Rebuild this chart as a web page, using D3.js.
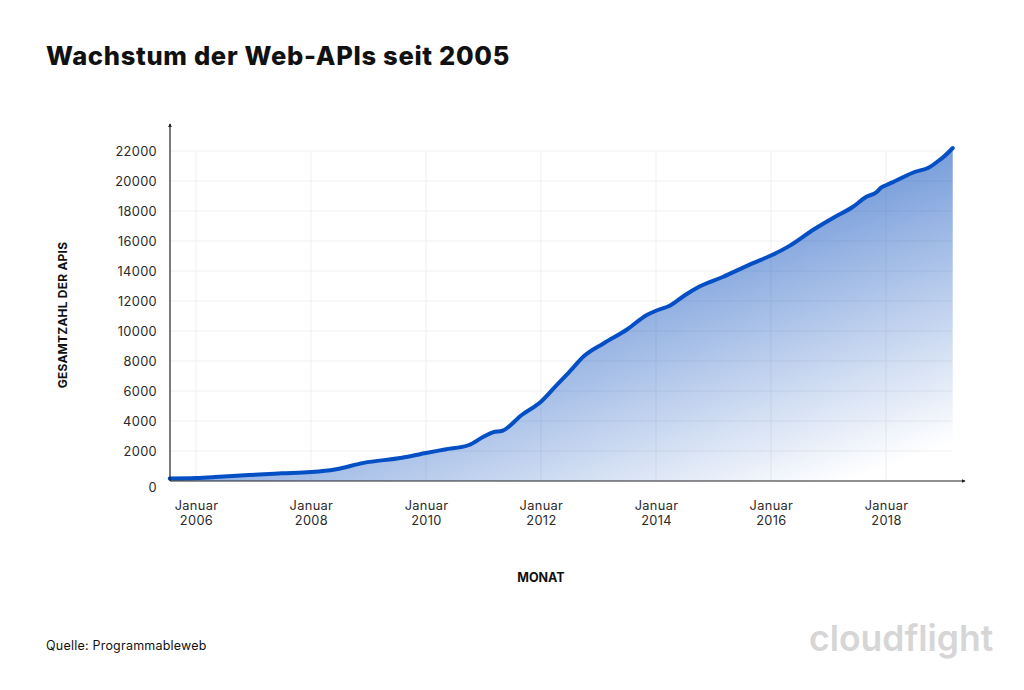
<!DOCTYPE html>
<html>
<head>
<meta charset="utf-8">
<script src="https://cdn.jsdelivr.net/npm/d3@7"></script>
<style>
    html, body { margin: 0; padding: 0; background: #fff; }
    text { font-family: "Inter", "Noto Sans", sans-serif; fill: #111; }
    .grid line { stroke: #efefef; stroke-width: 1; }
    .axis path { display: none; }
    .axis line { display: none; }
    .axis text { font-size: 12.8px; fill: #2a2a2a; letter-spacing: 0.35px; }
</style>
</head>
<body>
<div id="chart"></div>
<script>
var months = ["2005-07-18","2006-01","2006-05","2006-12","2007-07","2008-01","2008-06","2008-12","2009-08","2010-01",
    "2010-05","2010-10","2011-01","2011-03","2011-05","2011-09","2012-01","2012-04","2012-07","2012-10",
    "2013-02","2013-07","2013-11","2014-01","2014-04","2014-07","2014-10","2015-03","2015-09","2016-01",
    "2016-05","2016-10","2017-02","2017-06","2017-09","2017-11","2017-12","2018-01","2018-03","2018-07","2018-10","2018-12","2019-01","2019-03"];
var totals = [170,200,260,400,510,600,770,1210,1550,1870,
    2100,2400,2950,3240,3350,4400,5290,6290,7290,8330,
    9170,10100,11050,11350,11700,12370,12950,13600,14490,15030,
    15690,16780,17550,18250,18960,19250,19560,19720,20000,20600,20900,21350,21600,22200];
var yTicks = [0,2000,4000,6000,8000,10000,12000,14000,16000,18000,20000,22000];
var xTickYears = [2006,2008,2010,2012,2014,2016,2018];

var width = 1024, height = 690;
var svg = d3.select("#chart").append("svg")
    .attr("width", width)
    .attr("height", height)
    .style("display", "block");

var parseDate = function(s) {
    return s.length > 7 ? d3.timeParse("%Y-%m-%d")(s) : d3.timeParse("%Y-%m")(s);
};
var data = months.map(function(m, i) { return [parseDate(m), totals[i]]; });

var xScale = d3.scaleTime()
    .domain([new Date(2006, 0, 1), new Date(2018, 0, 1)])
    .range([196, 886]);
var yScale = d3.scaleLinear()
    .domain([0, 22000])
    .range([481, 151]);

var defs = svg.append("defs");
var grad = defs.append("linearGradient")
    .attr("id", "areaFill")
    .attr("gradientUnits", "userSpaceOnUse")
    .attr("x1", 607).attr("y1", 175)
    .attr("x2", 730).attr("y2", 522);
grad.append("stop").attr("offset", "0").attr("stop-color", "#0047bb").attr("stop-opacity", 0.7);
grad.append("stop").attr("offset", "1").attr("stop-color", "#0047bb").attr("stop-opacity", 0);
defs.append("marker")
    .attr("id", "arrow")
    .attr("viewBox", "0 0 6 6")
    .attr("refX", 5).attr("refY", 3)
    .attr("markerWidth", 4).attr("markerHeight", 4)
    .attr("markerUnits", "userSpaceOnUse")
    .attr("orient", "auto")
    .append("path")
    .attr("d", "M0,0L6,3L0,6Z")
    .attr("fill", "#222");

// grid
var grid = svg.append("g").classed("grid", true);
grid.selectAll(".h").data(yTicks.slice(1)).enter().append("line")
    .attr("x1", 170).attr("x2", 952)
    .attr("y1", d=>yScale(d)).attr("y2", d=>yScale(d));
grid.selectAll(".v").data(xTickYears).enter().append("line")
    .attr("x1", d=>xScale(new Date(d, 0, 1))).attr("x2", d=>xScale(new Date(d, 0, 1)))
    .attr("y1", 151).attr("y2", 481);

// area + line
var curve = d3.curveMonotoneX;
svg.append("path")
    .datum(data)
    .attr("fill", "url(#areaFill)")
    .attr("d", d3.area().curve(curve).x(d=>xScale(d[0])).y0(yScale(0)).y1(d=>yScale(d[1])));
svg.append("path")
    .datum(data)
    .attr("fill", "none")
    .attr("stroke", "#044fc4")
    .attr("stroke-width", 4)
    .attr("stroke-linecap", "round")
    .attr("d", d3.line().curve(curve).x(d=>xScale(d[0])).y(d=>yScale(d[1])));

// axes
var yAxis = svg.append("g")
    .classed("axis", true)
    .attr("transform", "translate(170,0)")
    .call(d3.axisLeft(yScale).tickValues(yTicks).tickFormat(d3.format("d")).tickPadding(7));
yAxis.selectAll("text").filter(d=>d == 0).attr("y", 6);

var xAxis = svg.append("g")
    .classed("axis", true)
    .attr("transform", "translate(0,481)")
    .call(d3.axisBottom(xScale)
        .tickValues(xTickYears.map(y=>new Date(y, 0, 1)))
        .tickFormat(d=>"Januar"));
xAxis.selectAll("text")
    .attr("y", 28.5).attr("dy", 0)
    .each(function(d) {
        d3.select(this).append("tspan")
            .attr("x", 0).attr("dy", 15)
            .text(d.getFullYear());
    });

svg.append("line").attr("x1", 170).attr("x2", 170).attr("y1", 481).attr("y2", 124)
    .attr("stroke", "#222").attr("stroke-width", 1.2).attr("marker-end", "url(#arrow)");
svg.append("line").attr("x1", 170).attr("x2", 965).attr("y1", 481).attr("y2", 481)
    .attr("stroke", "#222").attr("stroke-width", 1.2).attr("marker-end", "url(#arrow)");

// labels
svg.append("text").attr("x", 46).attr("y", 65)
    .style("font-size", "25.5px").style("font-weight", 800).style("letter-spacing", "0.7px")
    .text("Wachstum der Web-APIs seit 2005");
svg.append("text")
    .attr("transform", "translate(67,315) rotate(-90)")
    .attr("text-anchor", "middle")
    .style("font-size", "12px").style("font-weight", 700).style("letter-spacing", "0.22px")
    .text("GESAMTZAHL DER APIS");
svg.append("text").attr("x", 541).attr("y", 582)
    .attr("text-anchor", "middle")
    .style("font-size", "12.5px").style("font-weight", 700)
    .text("MONAT");
svg.append("text").attr("x", 46).attr("y", 650)
    .style("font-size", "12.5px").style("font-weight", 400).style("letter-spacing", "0.22px")
    .text("Quelle: Programmableweb");
svg.append("text").attr("x", 809).attr("y", 651)
    .style("font-size", "35.5px").style("font-weight", 600).style("fill", "#d6d6d6")
    .text("cloudflight");
</script>
</body>
</html>
